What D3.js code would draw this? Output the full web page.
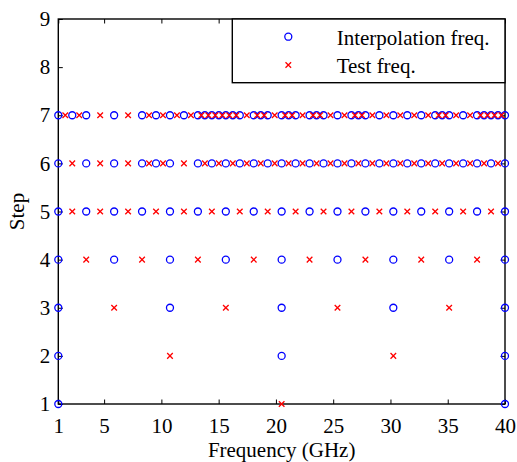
<!DOCTYPE html>
<html>
<head>
<meta charset="utf-8">
<script src="https://cdn.jsdelivr.net/npm/d3@7"></script>
<style>
  body { margin: 0; background: #fff; }
  svg text { font-family: "Liberation Serif", "Times New Roman", serif; fill: #000; }
</style>
</head>
<body>
<svg id="chart" width="517" height="462"></svg>
<script>
// Interpolation / test frequencies (GHz) for each refinement step
const interp1 = [1, 40];
const test1 = [20.5];
const interp2 = [1, 20.5, 40];
const test2 = [10.75, 30.25];
const interp3 = [1, 10.75, 20.5, 30.25, 40];
const test3 = [5.875, 15.625, 25.375, 35.125];
const interp4 = [1, 5.875, 10.75, 15.625, 20.5, 25.375, 30.25, 35.125, 40];
const test4 = [3.4375, 8.3125, 13.1875, 18.0625, 22.9375, 27.8125, 32.6875, 37.5625];
const interp5 = [1, 3.4375, 5.875, 8.3125, 10.75, 13.1875, 15.625, 18.0625, 20.5,
  22.9375, 25.375, 27.8125, 30.25, 32.6875, 35.125, 37.5625, 40];
const test5 = [2.21875, 4.65625, 7.09375, 9.53125, 11.96875, 14.40625, 16.84375, 19.28125,
  21.71875, 24.15625, 26.59375, 29.03125, 31.46875, 33.90625, 36.34375, 38.78125];
const interp6 = [1, 3.4375, 5.875, 8.3125, 9.53125, 10.75, 13.1875, 14.40625, 15.625,
  16.84375, 18.0625, 19.28125, 20.5, 21.71875, 22.9375, 24.15625, 25.375, 26.59375,
  27.8125, 29.03125, 30.25, 31.46875, 32.6875, 33.90625, 35.125, 36.34375, 37.5625,
  38.78125, 40];
const test6 = [2.21875, 4.65625, 7.09375, 8.921875, 10.140625, 11.96875, 13.796875,
  15.015625, 16.234375, 17.453125, 18.671875, 19.890625, 21.109375, 22.328125,
  23.546875, 24.765625, 25.984375, 27.203125, 28.421875, 29.640625, 30.859375,
  32.078125, 33.296875, 34.515625, 35.734375, 36.953125, 38.171875, 39.390625];
const interp7 = [1, 2.21875, 3.4375, 5.875, 8.3125, 9.53125, 10.75, 11.96875, 13.1875,
  13.796875, 14.40625, 15.015625, 15.625, 16.234375, 16.84375, 18.0625, 18.671875,
  19.28125, 20.5, 21.109375, 21.71875, 22.9375, 23.546875, 24.15625, 25.375, 26.59375,
  27.203125, 27.8125, 29.03125, 30.25, 31.46875, 32.6875, 33.90625, 34.515625, 35.125,
  36.34375, 37.5625, 38.171875, 38.78125, 39.390625, 40];
const test7 = [1.609375, 2.828125, 4.65625, 7.09375, 8.921875, 10.140625, 11.359375,
  12.578125, 13.4921875, 14.1015625, 14.7109375, 15.3203125, 15.9296875, 16.5390625,
  17.453125, 18.3671875, 18.9765625, 19.890625, 20.8046875, 21.4140625, 22.328125,
  23.2421875, 23.8515625, 24.765625, 25.984375, 26.8984375, 27.5078125, 28.421875,
  29.640625, 30.859375, 32.078125, 33.296875, 34.2109375, 34.8203125, 35.734375,
  36.953125, 37.8671875, 38.4765625, 39.0859375, 39.6953125];

const interpSteps = [interp1, interp2, interp3, interp4, interp5, interp6, interp7];
const testSteps = [test1, test2, test3, test4, test5, test6, test7];

const xTicks = [1, 5, 10, 15, 20, 25, 30, 35, 40];
const yTicks = [1, 2, 3, 4, 5, 6, 7, 8, 9];
const legendLabels = ["Interpolation freq.", "Test freq."];

// flatten into point lists
const interpPts = interpSteps.flatMap((arr, i) => arr.map(f => ({f: f, step: i + 1})));
const testPts = testSteps.flatMap((arr, i) => arr.map(f => ({f: f, step: i + 1})));

const svg = d3.select("#chart");
const margin = {top: 19, right: 12, bottom: 58, left: 58.3};
const width = 517 - margin.left - margin.right,
      height = 462 - margin.top - margin.bottom;
const fontSize = "21px";

const g = svg.append("g")
    .attr("transform", "translate(" + margin.left + "," + margin.top + ")");

const x = d3.scaleLinear().domain([1, 40]).range([0, width]);
const y = d3.scaleLinear().domain([1, 9]).range([height, 0]);

// axes: labels on bottom/left, inward ticks on all four sides (matlab box)
const tickLen = 4.5;
const styleAxis = function(sel) {
    sel.select(".domain").remove();
    sel.selectAll("line").attr("stroke", "#000").attr("stroke-width", 1);
    sel.selectAll("text").style("font-size", fontSize);
};

g.append("g")
    .attr("transform", "translate(0," + height + ")")
    .call(d3.axisBottom(x).tickValues(xTicks).tickSizeInner(-tickLen).tickSizeOuter(0).tickPadding(14))
    .call(styleAxis)
    .attr("font-family", null);

g.append("g")
    .call(d3.axisTop(x).tickValues(xTicks).tickSizeInner(-tickLen).tickSizeOuter(0).tickFormat(""))
    .call(styleAxis);

g.append("g")
    .call(d3.axisLeft(y).tickValues(yTicks).tickSizeInner(-tickLen).tickSizeOuter(0).tickPadding(8))
    .call(styleAxis)
    .attr("font-family", null);

g.append("g")
    .attr("transform", "translate(" + width + ",0)")
    .call(d3.axisRight(y).tickValues(yTicks).tickSizeInner(-tickLen).tickSizeOuter(0).tickFormat(""))
    .call(styleAxis);

// box
g.append("rect")
    .attr("x", 0).attr("y", 0)
    .attr("width", width).attr("height", height)
    .attr("fill", "none")
    .attr("stroke", "#000")
    .attr("stroke-width", 1.4);

// markers
const r = 3.5, cs = 2.8;

const crossPath = function(cx, cy) {
    return "M" + (cx - cs) + "," + (cy - cs) + "L" + (cx + cs) + "," + (cy + cs) +
           "M" + (cx - cs) + "," + (cy + cs) + "L" + (cx + cs) + "," + (cy - cs);
};

g.selectAll(".interp")
    .data(interpPts)
    .enter()
    .append("circle")
    .attr("class", "interp")
    .attr("cx", d => x(d.f))
    .attr("cy", d => y(d.step))
    .attr("r", r)
    .attr("fill", "none")
    .attr("stroke", "#0000ff")
    .attr("stroke-width", 1.3);

g.selectAll(".test")
    .data(testPts)
    .enter()
    .append("path")
    .attr("class", "test")
    .attr("d", d => crossPath(x(d.f), y(d.step)))
    .attr("stroke", "#ff0000")
    .attr("stroke-width", 1.3);

// legend
const lg = g.append("g").attr("transform", "translate(" + (232.3 - margin.left) + ",0)");
lg.append("rect")
    .attr("x", 0).attr("y", 0)
    .attr("width", width - (232.3 - margin.left)).attr("height", 63.7)
    .attr("fill", "#fff")
    .attr("stroke", "#000")
    .attr("stroke-width", 1.4);
lg.append("circle")
    .attr("cx", 56).attr("cy", 17.7).attr("r", r)
    .attr("fill", "none").attr("stroke", "#0000ff").attr("stroke-width", 1.3);
lg.append("path")
    .attr("d", crossPath(56, 46))
    .attr("stroke", "#ff0000").attr("stroke-width", 1.3);
lg.selectAll(".ltext")
    .data(legendLabels)
    .enter()
    .append("text")
    .attr("x", 104.4)
    .attr("y", (d, i) => 25.5 + i * 28)
    .style("font-size", fontSize)
    .text(d => d);

// axis titles
svg.append("text")
    .attr("x", margin.left + width / 2)
    .attr("y", 457)
    .attr("text-anchor", "middle")
    .style("font-size", fontSize)
    .text("Frequency (GHz)");

svg.append("text")
    .attr("transform", "translate(24," + (margin.top + height / 2) + ") rotate(-90)")
    .attr("text-anchor", "middle")
    .style("font-size", fontSize)
    .text("Step");
</script>
</body>
</html>
